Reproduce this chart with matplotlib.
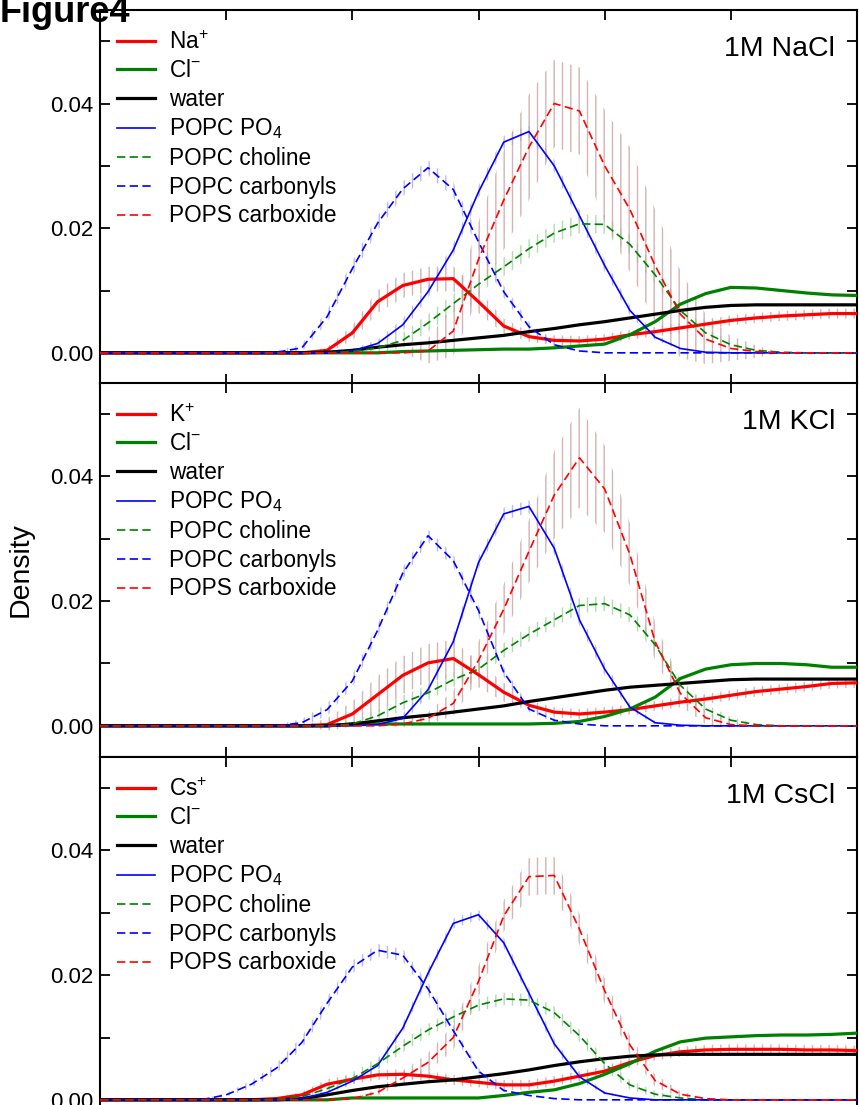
import matplotlib
matplotlib.use("Agg")
import matplotlib.pyplot as plt
from matplotlib.ticker import FixedLocator, FuncFormatter

plt.rcParams["font.family"] = ["Liberation Sans", "DejaVu Sans"]
plt.rcParams["mathtext.fontset"] = "custom"
plt.rcParams["mathtext.rm"] = "Liberation Sans"
plt.rcParams["mathtext.it"] = "Liberation Sans:italic"
plt.rcParams["mathtext.bf"] = "Liberation Sans:bold"
plt.rcParams["hatch.linewidth"] = 1.0

# distance grid (shared by every profile)
dist = [0.0, 0.2, 0.4, 0.6, 0.8, 1.0, 1.2, 1.4, 1.6, 1.8, 2.0, 2.2, 2.4, 2.6, 2.8, 3.0,
        3.2, 3.4, 3.6, 3.8, 4.0, 4.2, 4.4, 4.6, 4.8, 5.0, 5.2, 5.4, 5.6, 5.8, 6.0]

# ---- 1M NaCl ----
nacl_cation = [0, 0, 0, 0, 0, 0, 0, 0, 0, 0.0004, 0.0032, 0.0082, 0.0108, 0.0118, 0.0119, 0.0082,
               0.0043, 0.0026, 0.0020, 0.0019, 0.0022, 0.0029, 0.0034, 0.0040, 0.0046, 0.0052,
               0.0056, 0.0059, 0.0061, 0.0063, 0.0063]
nacl_cl = [0, 0, 0, 0, 0, 0, 0, 0, 0, 0, 0, 0, 0.0002, 0.0003, 0.0004, 0.0005,
           0.0006, 0.0006, 0.0008, 0.0011, 0.0014, 0.0029, 0.0050, 0.0078, 0.0095, 0.0105,
           0.0104, 0.0100, 0.0096, 0.0093, 0.0092]
nacl_water = [0, 0, 0, 0, 0, 0, 0, 0, 0, 0.0001, 0.0004, 0.0009, 0.0013, 0.0016, 0.0020, 0.0024,
              0.0028, 0.0034, 0.0039, 0.0045, 0.0050, 0.0056, 0.0062, 0.0068, 0.0073, 0.0076,
              0.0077, 0.0077, 0.0077, 0.0077, 0.0077]
nacl_po4 = [0, 0, 0, 0, 0, 0, 0, 0, 0, 0, 0.0003, 0.0015, 0.0045, 0.0098, 0.0165, 0.0258,
            0.0338, 0.0355, 0.0300, 0.0220, 0.0140, 0.0068, 0.0025, 0.0007, 0.0001, 0,
            0, 0, 0, 0, 0]
nacl_choline = [0, 0, 0, 0, 0, 0, 0, 0, 0, 0, 0.0002, 0.0008, 0.0020, 0.0048, 0.0079, 0.0110,
                0.0138, 0.0167, 0.0192, 0.0207, 0.0206, 0.0174, 0.0125, 0.0068, 0.0032, 0.0013,
                0.0004, 0.0001, 0, 0, 0]
nacl_carbonyl = [0, 0, 0, 0, 0, 0, 0, 0.0001, 0.0008, 0.0058, 0.0135, 0.0208, 0.0263, 0.0297, 0.0262, 0.0178,
                 0.0098, 0.0042, 0.0013, 0.0003, 0, 0, 0, 0, 0, 0,
                 0, 0, 0, 0, 0]
nacl_carboxide = [0, 0, 0, 0, 0, 0, 0, 0, 0, 0, 0, 0, 0, 0.0003, 0.0035, 0.0150,
                  0.0245, 0.0330, 0.0400, 0.0388, 0.0300, 0.0230, 0.0140, 0.0062, 0.0022, 0.0007,
                  0.0002, 0, 0, 0, 0]
nacl_cation_err = [0, 0, 0, 0, 0, 0, 0, 0, 0, 0.0005, 0.0012, 0.0018, 0.0020, 0.0020, 0.0020, 0.0018,
                   0.0012, 0.0008, 0.0008, 0.0008, 0.0008, 0.0008, 0.0008, 0.0008, 0.0008, 0.0008,
                   0.0008, 0.0008, 0.0008, 0.0008, 0.0008]
nacl_choline_err = [0, 0, 0, 0, 0, 0, 0, 0, 0, 0, 0.0004, 0.0008, 0.0012, 0.0014, 0.0015, 0.0015,
                    0.0015, 0.0015, 0.0015, 0.0015, 0.0015, 0.0015, 0.0014, 0.0012, 0.0008, 0.0005,
                    0.0002, 0, 0, 0, 0]
nacl_po4_err = [0, 0, 0, 0, 0, 0, 0, 0, 0, 0, 0.0003, 0.0006, 0.0010, 0.0010, 0.0010, 0.0010,
                0.0010, 0.0010, 0.0010, 0.0010, 0.0010, 0.0008, 0.0005, 0.0002, 0, 0,
                0, 0, 0, 0, 0]
nacl_carbonyl_err = [0, 0, 0, 0, 0, 0, 0, 0.0002, 0.0006, 0.0010, 0.0012, 0.0012, 0.0012, 0.0012, 0.0012, 0.0012,
                     0.0010, 0.0008, 0.0004, 0.0002, 0, 0, 0, 0, 0, 0,
                     0, 0, 0, 0, 0]
nacl_carboxide_err = [0, 0, 0, 0, 0, 0, 0, 0, 0, 0, 0, 0, 0, 0.0020, 0.0040, 0.0060,
                      0.0080, 0.0085, 0.0070, 0.0070, 0.0090, 0.0100, 0.0090, 0.0070, 0.0040, 0.0020,
                      0.0010, 0, 0, 0, 0]

# ---- 1M KCl ----
kcl_cation = [0, 0, 0, 0, 0, 0, 0, 0, 0, 0.0002, 0.0019, 0.0050, 0.0081, 0.0101, 0.0108, 0.0082,
              0.0054, 0.0033, 0.0022, 0.0019, 0.0022, 0.0026, 0.0032, 0.0038, 0.0043, 0.0049,
              0.0055, 0.0059, 0.0063, 0.0068, 0.0069]
kcl_cl = [0, 0, 0, 0, 0, 0, 0, 0, 0, 0, 0.0003, 0.0003, 0.0003, 0.0003, 0.0003, 0.0003,
          0.0003, 0.0003, 0.0004, 0.0007, 0.0015, 0.0027, 0.0046, 0.0076, 0.0091, 0.0098,
          0.0100, 0.0100, 0.0098, 0.0094, 0.0094]
kcl_water = [0, 0, 0, 0, 0, 0, 0, 0, 0, 0, 0.0003, 0.0008, 0.0013, 0.0017, 0.0022, 0.0027,
             0.0032, 0.0039, 0.0045, 0.0051, 0.0057, 0.0062, 0.0065, 0.0068, 0.0071, 0.0074,
             0.0075, 0.0075, 0.0075, 0.0075, 0.0075]
kcl_po4 = [0, 0, 0, 0, 0, 0, 0, 0, 0, 0, 0, 0.0002, 0.0012, 0.0058, 0.0135, 0.0262,
           0.0340, 0.0352, 0.0285, 0.0170, 0.0091, 0.0030, 0.0005, 0.0001, 0, 0,
           0, 0, 0, 0, 0]
kcl_choline = [0, 0, 0, 0, 0, 0, 0, 0, 0, 0, 0.0003, 0.0016, 0.0037, 0.0053, 0.0074, 0.0091,
               0.0121, 0.0147, 0.0170, 0.0193, 0.0196, 0.0178, 0.0130, 0.0065, 0.0027, 0.0009,
               0.0002, 0, 0, 0, 0]
kcl_carbonyl = [0, 0, 0, 0, 0, 0, 0, 0, 0.0005, 0.0026, 0.0072, 0.0153, 0.0245, 0.0305, 0.0265, 0.0185,
                0.0086, 0.0027, 0.0009, 0.0003, 0, 0, 0, 0, 0, 0,
                0, 0, 0, 0, 0]
kcl_carboxide = [0, 0, 0, 0, 0, 0, 0, 0, 0, 0, 0, 0, 0.0003, 0.0012, 0.0036, 0.0105,
                 0.0187, 0.0280, 0.0370, 0.0430, 0.0380, 0.0275, 0.0135, 0.0052, 0.0013, 0.0002,
                 0, 0, 0, 0, 0]
kcl_cation_err = [0, 0, 0, 0, 0, 0, 0, 0, 0, 0.0010, 0.0020, 0.0030, 0.0030, 0.0030, 0.0030, 0.0020,
                  0.0015, 0.0008, 0.0008, 0.0008, 0.0008, 0.0008, 0.0008, 0.0008, 0.0008, 0.0008,
                  0.0008, 0.0008, 0.0008, 0.0008, 0.0008]
kcl_choline_err = [0, 0, 0, 0, 0, 0, 0, 0, 0, 0, 0.0004, 0.0010, 0.0012, 0.0012, 0.0012, 0.0012,
                   0.0012, 0.0012, 0.0012, 0.0012, 0.0012, 0.0012, 0.0012, 0.0010, 0.0008, 0.0005,
                   0.0002, 0, 0, 0, 0]
kcl_po4_err = [0, 0, 0, 0, 0, 0, 0, 0, 0, 0, 0, 0.0003, 0.0008, 0.0010, 0.0010, 0.0010,
               0.0010, 0.0010, 0.0010, 0.0010, 0.0010, 0.0006, 0.0003, 0, 0, 0,
               0, 0, 0, 0, 0]
kcl_carbonyl_err = [0, 0, 0, 0, 0, 0, 0, 0.0002, 0.0006, 0.0010, 0.0010, 0.0010, 0.0010, 0.0010, 0.0010, 0.0010,
                    0.0008, 0.0005, 0.0003, 0.0001, 0, 0, 0, 0, 0, 0,
                    0, 0, 0, 0, 0]
kcl_carboxide_err = [0, 0, 0, 0, 0, 0, 0, 0, 0, 0, 0, 0, 0.0005, 0.0010, 0.0020, 0.0030,
                     0.0040, 0.0050, 0.0070, 0.0080, 0.0070, 0.0050, 0.0030, 0.0020, 0.0010, 0.0005,
                     0, 0, 0, 0, 0]

# ---- 1M CsCl ----
cscl_cation = [0, 0, 0, 0, 0, 0, 0, 0.0002, 0.0008, 0.0025, 0.0033, 0.0040, 0.0041, 0.0038, 0.0032, 0.0028,
               0.0024, 0.0024, 0.0030, 0.0038, 0.0046, 0.0060, 0.0071, 0.0077, 0.0080, 0.0081,
               0.0081, 0.0081, 0.0080, 0.0080, 0.0079]
cscl_cl = [0, 0, 0, 0, 0, 0, 0, 0, 0, 0, 0.0003, 0.0003, 0.0003, 0.0003, 0.0003, 0.0003,
           0.0007, 0.0012, 0.0016, 0.0026, 0.0041, 0.0058, 0.0078, 0.0093, 0.0099, 0.0101,
           0.0103, 0.0104, 0.0104, 0.0105, 0.0107]
cscl_water = [0, 0, 0, 0, 0, 0, 0, 0, 0.0002, 0.0008, 0.0015, 0.0021, 0.0025, 0.0029, 0.0032, 0.0037,
              0.0042, 0.0048, 0.0055, 0.0061, 0.0066, 0.0070, 0.0072, 0.0073, 0.0073, 0.0073,
              0.0073, 0.0073, 0.0073, 0.0073, 0.0073]
cscl_po4 = [0, 0, 0, 0, 0, 0, 0, 0, 0.0002, 0.0012, 0.0030, 0.0055, 0.0115, 0.0203, 0.0283, 0.0297,
            0.0252, 0.0171, 0.0090, 0.0037, 0.0011, 0.0003, 0, 0, 0, 0,
            0, 0, 0, 0, 0]
cscl_choline = [0, 0, 0, 0, 0, 0, 0, 0.0001, 0.0005, 0.0018, 0.0034, 0.0058, 0.0086, 0.0112, 0.0133, 0.0152,
                0.0162, 0.0160, 0.0140, 0.0103, 0.0058, 0.0024, 0.0009, 0.0003, 0, 0,
                0, 0, 0, 0, 0]
cscl_carbonyl = [0, 0, 0, 0, 0, 0.0008, 0.0025, 0.0051, 0.0092, 0.0155, 0.0213, 0.0240, 0.0232, 0.0178, 0.0111, 0.0046,
                 0.0015, 0.0007, 0.0002, 0, 0, 0, 0, 0, 0, 0,
                 0, 0, 0, 0, 0]
cscl_carboxide = [0, 0, 0, 0, 0, 0, 0, 0, 0, 0, 0.0002, 0.0012, 0.0035, 0.0060, 0.0100, 0.0190,
                  0.0295, 0.0358, 0.0360, 0.0274, 0.0175, 0.0088, 0.0031, 0.0009, 0.0002, 0,
                  0, 0, 0, 0, 0]
cscl_cation_err = [0, 0, 0, 0, 0, 0, 0, 0.0002, 0.0005, 0.0008, 0.0008, 0.0008, 0.0008, 0.0008, 0.0008, 0.0008,
                   0.0008, 0.0008, 0.0008, 0.0008, 0.0008, 0.0008, 0.0008, 0.0008, 0.0008, 0.0008,
                   0.0008, 0.0008, 0.0008, 0.0008, 0.0008]
cscl_choline_err = [0, 0, 0, 0, 0, 0, 0, 0, 0.0003, 0.0006, 0.0010, 0.0010, 0.0010, 0.0010, 0.0010, 0.0010,
                    0.0010, 0.0010, 0.0010, 0.0010, 0.0010, 0.0008, 0.0005, 0.0002, 0, 0,
                    0, 0, 0, 0, 0]
cscl_po4_err = [0, 0, 0, 0, 0, 0, 0, 0, 0, 0.0002, 0.0005, 0.0008, 0.0008, 0.0008, 0.0008, 0.0008,
                0.0008, 0.0008, 0.0008, 0.0006, 0.0003, 0, 0, 0, 0, 0,
                0, 0, 0, 0, 0]
cscl_carbonyl_err = [0, 0, 0, 0, 0, 0.0003, 0.0006, 0.0008, 0.0010, 0.0010, 0.0010, 0.0010, 0.0010, 0.0010, 0.0008, 0.0005,
                     0.0002, 0, 0, 0, 0, 0, 0, 0, 0, 0,
                     0, 0, 0, 0, 0]
cscl_carboxide_err = [0, 0, 0, 0, 0, 0, 0, 0, 0, 0, 0, 0.0005, 0.0010, 0.0015, 0.0020, 0.0025,
                      0.0025, 0.0030, 0.0030, 0.0025, 0.0020, 0.0015, 0.0010, 0.0005, 0, 0,
                      0, 0, 0, 0, 0]

panels = [
    ("1M NaCl", "Na$^{+}$",
     [nacl_cation, nacl_cl, nacl_water, nacl_po4, nacl_choline, nacl_carbonyl, nacl_carboxide],
     [nacl_cation_err, None, None, nacl_po4_err, nacl_choline_err, nacl_carbonyl_err, nacl_carboxide_err]),
    ("1M KCl", "K$^{+}$",
     [kcl_cation, kcl_cl, kcl_water, kcl_po4, kcl_choline, kcl_carbonyl, kcl_carboxide],
     [kcl_cation_err, None, None, kcl_po4_err, kcl_choline_err, kcl_carbonyl_err, kcl_carboxide_err]),
    ("1M CsCl", "Cs$^{+}$",
     [cscl_cation, cscl_cl, cscl_water, cscl_po4, cscl_choline, cscl_carbonyl, cscl_carboxide],
     [cscl_cation_err, None, None, cscl_po4_err, cscl_choline_err, cscl_carbonyl_err, cscl_carboxide_err]),
]

other_labels = ["Cl$^{-}$", "water", "POPC PO$_4$", "POPC choline", "POPC carbonyls", "POPS carboxide"]

RED, GREEN, BLUE = "#ff0000", "#008000", "#0000ff"
DASH = (0, (5, 2.6))
# colour, linewidth, linestyle, error colour
styles = [
    (RED, 2.3, "-", "#c8a0a0"),
    (GREEN, 2.3, "-", "#9fd09f"),
    ("black", 2.3, "-", None),
    (BLUE, 1.2, "-", "#a8a8e6"),
    (GREEN, 1.2, DASH, "#9fd09f"),
    (BLUE, 1.2, DASH, "#a8a8e6"),
    (RED, 1.2, DASH, "#c8a0a0"),
]

W, H = 859, 1105
fig = plt.figure(figsize=(W / 100, H / 100), dpi=100)

left = 100 / W
width = 757 / W
tops = [10, 383, 757]
ph = 374

for (salt, cation, series, errs), top in zip(panels, tops):
    ax = fig.add_axes([left, 1 - (top + ph) / H, width, ph / H])
    labels = [cation] + other_labels

    # error bars drawn as hatched bands underneath the curves
    for (col, lw, ls, ecol), vals, err in zip(styles, series, errs):
        if err is None:
            continue
        lo = [v - e for v, e in zip(vals, err)]
        hi = [v + e for v, e in zip(vals, err)]
        ax.fill_between(dist, lo, hi, facecolor="none", edgecolor=ecol,
                        hatch="||", linewidth=0, alpha=0.8, zorder=1)

    for (col, lw, ls, ecol), vals, lab in zip(styles, series, labels):
        ax.plot(dist, vals, color=col, lw=lw, ls=ls, label=lab, zorder=3)

    ax.set_xlim(0, 6)
    ax.set_ylim(-0.005, 0.055)
    ax.xaxis.set_major_locator(FixedLocator([0, 1, 2, 3, 4, 5, 6]))
    ax.yaxis.set_major_locator(FixedLocator([0.0, 0.01, 0.02, 0.03, 0.04, 0.05]))
    ax.yaxis.set_major_formatter(FuncFormatter(
        lambda v, p: f"{v:.2f}" if round(v * 100) % 2 == 0 and v < 0.05 else ""))
    ax.tick_params(axis="both", direction="in", length=7, width=1.3,
                   top=True, right=True, labelbottom=False, labelsize=16, pad=5)
    for sp in ax.spines.values():
        sp.set_linewidth(1.5)

    ax.text(0.971, 0.895, salt, transform=ax.transAxes, ha="right", va="center",
            fontsize=20.5)
    ax.legend(loc="upper left", bbox_to_anchor=(0.023, 0.945), frameon=False,
              fontsize=16.3, handlelength=1.68, handletextpad=0.58,
              labelspacing=0.25, borderaxespad=0, borderpad=0)

    if salt == "1M KCl":
        ax.set_ylabel("Density", fontsize=20.5, labelpad=12)

fig.text(0.0, 1 - 22 / H, "Figure4", fontsize=26, fontweight="bold",
         ha="left", va="baseline")

fig.savefig("out.png", dpi=100)
